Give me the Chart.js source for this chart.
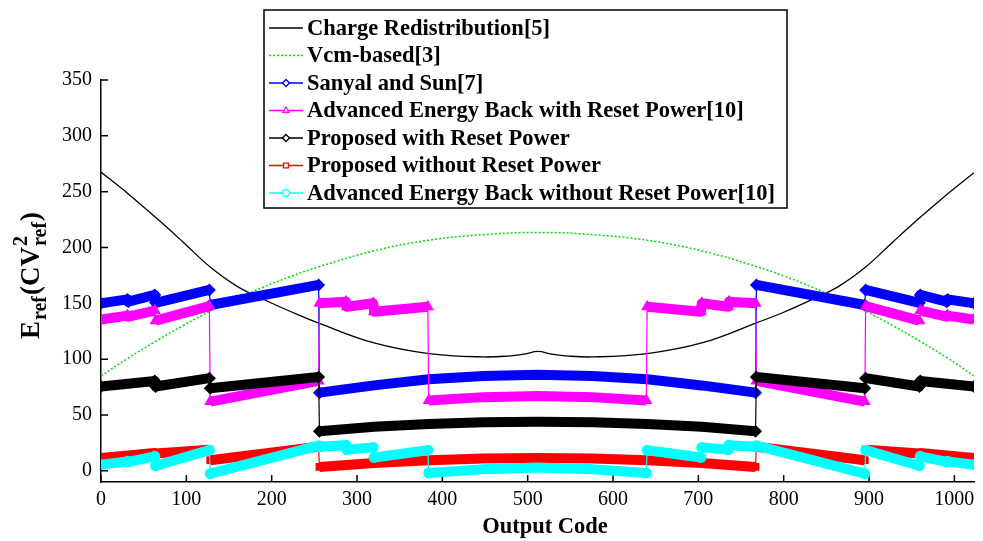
<!DOCTYPE html>
<html>
<head>
<meta charset="utf-8">
<script src="https://cdn.jsdelivr.net/npm/chart.js@4.4.1/dist/chart.umd.min.js"></script>
<style>
  html, body { margin: 0; padding: 0; background: #fff; }
  #wrap { width: 983px; height: 541px; position: relative; }
</style>
</head>
<body>
<div id="wrap"><canvas id="energyChart"></canvas></div>
<script>
// axis ticks
const xTicks = [0, 100, 200, 300, 400, 500, 600, 700, 800, 900, 1000]
const yTicks = [0, 50, 100, 150, 200, 250, 300, 350]

// smooth reference curves
const crCodes = [0, 32, 64, 96, 128, 160, 192, 224, 256, 320, 384, 448, 480, 496, 512, 528, 544, 576, 640, 704, 768, 800, 832, 864, 896, 928, 960, 992, 1023]
const crE = [267.5, 248, 227, 205, 182.5, 165, 153, 142, 132, 114.5, 105, 102, 103, 104.5, 107, 104.5, 103, 102, 105, 114.5, 132.5, 142, 153, 165, 182.5, 205, 227, 248, 267]

const vcmCodes = [0, 32, 64, 96, 128, 160, 192, 224, 256, 320, 384, 448, 512, 576, 640, 704, 768, 800, 832, 864, 896, 928, 960, 992, 1023]
const vcmE = [85, 101, 116, 130, 143, 154.5, 165, 174.5, 183, 197, 206.5, 211.5, 213.5, 211.5, 206.5, 197, 183, 174.5, 165, 154.5, 143, 130, 116, 101, 85]

// stepped schemes: a pair of neighbouring codes marks every jump
const sanyalCodes = [0, 31, 32, 63, 64, 127, 128, 255, 256, 320, 384, 448, 512, 576, 640, 704, 767, 768, 895, 896, 959, 960, 991, 992, 1023]
const sanyalE = [150, 153.5, 151.5, 157.5, 150.5, 162, 148.5, 166.5, 70, 76.5, 82, 85, 86, 85, 82, 76.5, 70, 166.5, 148.5, 162, 150.5, 157.5, 151.5, 153.5, 150]

const aebCodes = [0, 31, 32, 63, 64, 127, 128, 255, 256, 287, 288, 319, 320, 383, 384, 448, 512, 576, 639, 640, 703, 704, 735, 736, 767, 768, 895, 896, 959, 960, 991, 992, 1023]
const aebResetE = [135.5, 139, 138, 143.5, 134.5, 147.5, 62, 80.5, 150, 151.5, 147, 150, 142.5, 147, 63, 66, 67, 66, 63, 147, 142.5, 150, 147, 151.5, 150, 80.5, 62, 147.5, 134.5, 143.5, 138, 139, 135.5]
const aebNoResetE = [5.5, 8.5, 8, 13, 4.5, 18.5, -2.5, 22.5, 21.5, 23, 19, 21, 12, 18.5, -2, 1.5, 3, 1.5, -2, 18.5, 12, 21, 19, 23, 21.5, 22.5, -2.5, 18.5, 4.5, 13, 8, 8.5, 5.5]

const propCodes = [0, 63, 64, 127, 128, 255, 256, 320, 384, 448, 512, 576, 640, 704, 767, 768, 895, 896, 959, 960, 1023]
const propResetE = [75.5, 80.5, 75.5, 83, 74, 84, 35.5, 39.5, 42, 43.5, 44, 43.5, 42, 39.5, 35.5, 84, 74, 83, 75.5, 80.5, 75.5]
const propNoResetE = [11.5, 16, 15.5, 19, 9.5, 21.5, 3.5, 7, 9.5, 11, 11.5, 11, 9.5, 7, 3.5, 21.5, 9.5, 19, 15.5, 16, 11.5]

const SERIF = '"Liberation Serif", "Times New Roman", serif'
const BAND = 10

function pairs(codes, values) {
    return codes.map((c, i) => ({ x: c, y: values[i] }))
}

// thin connector where the value jumps between neighbouring codes
function jumpWidth(ctx) {
    const dx = Math.abs(ctx.p1.parsed.x - ctx.p0.parsed.x)
    const dy = Math.abs(ctx.p1.parsed.y - ctx.p0.parsed.y)
    return dx <= 1 && dy > 8 ? 1.2 : BAND
}

// markers only show at the ends of each run
function endRadius(codes, r) {
    return (ctx) => {
        const i = ctx.dataIndex
        const prev = codes[i - 1]
        const next = codes[i + 1]
        if (prev === undefined || next === undefined) return r
        return codes[i] - prev <= 1 || next - codes[i] <= 1 ? r : 0
    }
}

function band(label, codes, values, color, style, r, order) {
    return {
        label,
        data: pairs(codes, values),
        borderColor: color,
        backgroundColor: color,
        pointBackgroundColor: color,
        pointStyle: style,
        pointRadius: endRadius(codes, r),
        pointBorderWidth: 0,
        borderWidth: BAND,
        borderJoinStyle: 'round',
        tension: 0,
        segment: { borderWidth: jumpWidth },
        order
    }
}

const datasets = [
    { label: 'Charge Redistribution[5]', data: pairs(crCodes, crE), borderColor: '#000000', borderWidth: 1.3, pointRadius: 0, pointStyle: false, tension: 0.4, order: 7 },
    { label: 'Vcm-based[3]', data: pairs(vcmCodes, vcmE), borderColor: '#00e000', borderWidth: 1.5, borderDash: [2, 2], pointRadius: 0, pointStyle: false, tension: 0.4, order: 6 },
    band('Sanyal and Sun[7]', sanyalCodes, sanyalE, '#0000ff', 'rectRot', 6.5, 5),
    band('Advanced Energy Back with Reset Power[10]', aebCodes, aebResetE, '#ff00ff', 'triangle', 7, 4),
    band('Proposed with Reset Power', propCodes, propResetE, '#000000', 'rectRot', 6.5, 3),
    band('Proposed without Reset Power', propCodes, propNoResetE, '#ff0000', 'rect', 5.5, 2),
    band('Advanced Energy Back without Reset Power[10]', aebCodes, aebNoResetE, '#00ffff', 'circle', 5.5, 1)
]

// inward tick marks, axis titles and the boxed legend
const decor = {
    id: 'decor',
    beforeDatasetsDraw(chart) {
        const { ctx, chartArea: a, scales: { x, y } } = chart
        ctx.save()
        ctx.strokeStyle = '#000'
        ctx.lineWidth = 1.5
        ctx.beginPath()
        xTicks.forEach((v) => {
            const px = x.getPixelForValue(v)
            ctx.moveTo(px, a.bottom)
            ctx.lineTo(px, a.bottom - 7)
        })
        yTicks.forEach((v) => {
            const py = y.getPixelForValue(v)
            ctx.moveTo(a.left, py)
            ctx.lineTo(a.left + 7, py)
        })
        ctx.stroke()
        ctx.restore()
    },
    afterDraw(chart) {
        const { ctx } = chart
        ctx.save()
        ctx.fillStyle = '#000'

        // x title
        ctx.font = 'bold 22.5px ' + SERIF
        ctx.textAlign = 'center'
        ctx.textBaseline = 'middle'
        ctx.fillText('Output Code', 545, 527)

        // y title E_ref(CV^2_ref), rotated
        ctx.translate(31, 275)
        ctx.rotate(-Math.PI / 2)
        ctx.textAlign = 'left'
        ctx.textBaseline = 'alphabetic'
        const big = 'bold 27px ' + SERIF
        const small = 'bold 20px ' + SERIF
        const parts = [
            { t: 'E', f: big, dy: 0 },
            { t: 'ref', f: small, dy: 7 },
            { t: '(CV', f: big, dy: 0 },
            { t: '2', f: small, dy: -12, stack: 'ref' },
            { t: ')', f: big, dy: 0 }
        ]
        let total = 0
        parts.forEach((p) => {
            ctx.font = p.f
            p.w = ctx.measureText(p.t).width
            if (p.stack) p.w = Math.max(p.w, ctx.measureText(p.stack).width)
            total += p.w + 1
        })
        let cx = -total / 2
        parts.forEach((p) => {
            ctx.font = p.f
            ctx.fillText(p.t, cx, 8 + p.dy)
            if (p.stack) ctx.fillText(p.stack, cx, 8 + 7)
            cx += p.w + 1
        })
        ctx.setTransform(1, 0, 0, 1, 0, 0)

        // legend box
        const bx = 264, by = 10, bw = 523, bh = 198
        ctx.fillStyle = '#fff'
        ctx.fillRect(bx, by, bw, bh)
        ctx.strokeStyle = '#000'
        ctx.lineWidth = 1.5
        ctx.strokeRect(bx, by, bw, bh)
        ctx.font = 'bold 22.5px ' + SERIF
        ctx.textBaseline = 'middle'
        ctx.textAlign = 'left'
        chart.data.datasets.forEach((ds, i) => {
            const cy = 28 + i * 27.5
            ctx.strokeStyle = ds.borderColor
            ctx.lineWidth = 1.3
            ctx.setLineDash(ds.borderDash || [])
            ctx.beginPath()
            ctx.moveTo(269, cy)
            ctx.lineTo(303, cy)
            ctx.stroke()
            ctx.setLineDash([])
            if (ds.pointStyle) {
                ctx.fillStyle = '#fff'
                Chart.helpers.drawPoint(ctx, { pointStyle: ds.pointStyle, radius: 3.5, borderWidth: 1.3, rotation: 0 }, 286, cy)
            }
            ctx.fillStyle = '#000'
            ctx.fillText(ds.label, 307, cy + 1)
        })
        ctx.restore()
    }
}

const axisFont = { family: SERIF, size: 20 }

new Chart(document.getElementById('energyChart'), {
    type: 'line',
    data: { datasets },
    options: {
        responsive: true,
        maintainAspectRatio: false,
        animation: false,
        events: [],
        layout: { padding: { top: 80, right: 9, left: 0, bottom: 0 } },
        plugins: { legend: { display: false }, tooltip: { enabled: false } },
        scales: {
            x: {
                type: 'linear',
                min: 0,
                max: 1023,
                afterBuildTicks: (s) => { s.ticks = xTicks.map((v) => ({ value: v })) },
                afterFit: (s) => { s.height = 59 },
                grid: { display: false, drawTicks: false },
                border: { display: true, color: '#000', width: 1.5 },
                ticks: { font: axisFont, color: '#000', padding: 6, maxRotation: 0, autoSkip: false, callback: (v) => String(v) }
            },
            y: {
                type: 'linear',
                min: -10,
                max: 350,
                afterBuildTicks: (s) => { s.ticks = yTicks.map((v) => ({ value: v })) },
                afterFit: (s) => { s.width = 101 },
                grid: { display: false, drawTicks: false },
                border: { display: true, color: '#000', width: 1.5 },
                ticks: { font: axisFont, color: '#000', padding: 9, autoSkip: false, callback: (v) => String(v) }
            }
        }
    },
    plugins: [decor]
})
</script>
</body>
</html>
